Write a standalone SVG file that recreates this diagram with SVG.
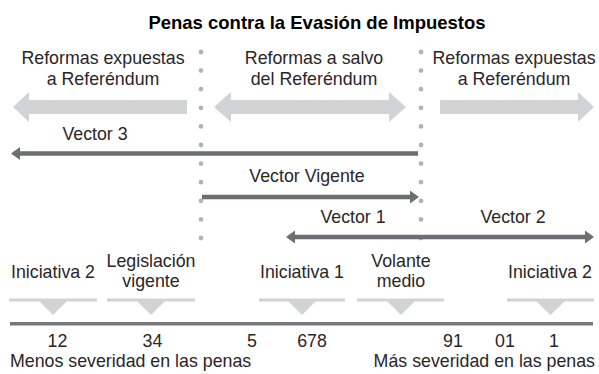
<svg xmlns="http://www.w3.org/2000/svg" width="599" height="374" viewBox="0 0 599 374">
<defs>
<style>
text{font-family:"Liberation Sans",Arial,sans-serif;font-size:17.8px;fill:#2a2627}
.c{text-anchor:middle}
.t{font-weight:bold;font-size:18.5px;fill:#000}
.big{fill:#d1d3d4}
.dk{stroke:#6d6e71;stroke-width:4.5;fill:none}
.hd{fill:#6d6e71}
.dots{stroke:#b1b3b6;stroke-width:4.8;stroke-linecap:round;stroke-dasharray:0 18.6}
.bar{fill:#d1d3d4}
</style>
</defs>
<rect width="599" height="374" fill="#fff"/>
<text class="t c" x="317" y="29">Penas contra la Evasión de Impuestos</text>

<g id="connectors">
<line class="dots" x1="201" y1="52" x2="201" y2="239"/>
<line class="dots" x1="421" y1="52" x2="421" y2="239"/>
<polygon class="big" points="13,107 29,92 29,100 187,100 187,114 29,114 29,122"/>
<polygon class="big" points="214,107 231,92 231,100 389,100 389,92 406,107 389,122 389,114 231,114 231,122"/>
<polygon class="big" points="440,100 578,100 578,92 594,107 578,122 578,114 440,114"/>
<line class="dk" x1="418" y1="153.5" x2="19" y2="153.5"/>
<polygon class="hd" points="11,153.5 20,147 20,160"/>
<line class="dk" x1="202" y1="197" x2="411" y2="197"/>
<polygon class="hd" points="419,197 410,190.5 410,203.5"/>
<line class="dk" x1="294" y1="237" x2="586" y2="237"/>
<polygon class="hd" points="286,237 295,230.5 295,243.5"/>
<polygon class="hd" points="594,237 585,230.5 585,243.5"/>
<rect x="10" y="322" width="583" height="3.5" fill="#77787b"/>
</g>

<g id="zona-izq">
<text class="c" x="103" y="63.5">Reformas expuestas</text>
<text class="c" x="103" y="85">a Referéndum</text>
</g>
<g id="zona-centro">
<text class="c" x="314" y="63.5">Reformas a salvo</text>
<text class="c" x="314" y="85">del Referéndum</text>
</g>
<g id="zona-der">
<text class="c" x="514" y="63.5">Reformas expuestas</text>
<text class="c" x="514" y="85">a Referéndum</text>
</g>

<g id="vector3"><text class="c" x="95" y="140">Vector 3</text></g>
<g id="vector-vigente"><text class="c" x="307" y="182">Vector Vigente</text></g>
<g id="vector1"><text class="c" x="353" y="223">Vector 1</text></g>
<g id="vector2"><text class="c" x="513" y="223">Vector 2</text></g>

<g id="iniciativa2-izq">
<text class="c" x="53" y="278">Iniciativa 2</text>
<rect class="bar" x="9" y="298.5" width="88" height="3"/>
<polygon class="bar" points="39,301 67,301 53,315"/>
</g>
<g id="legislacion-vigente">
<text class="c" x="151" y="266.5">Legislación</text>
<text class="c" x="151" y="286.5">vigente</text>
<rect class="bar" x="107" y="298.5" width="88" height="3"/>
<polygon class="bar" points="137,301 165,301 151,315"/>
</g>
<g id="iniciativa1">
<text class="c" x="302" y="278">Iniciativa 1</text>
<rect class="bar" x="259" y="298.5" width="86" height="3"/>
<polygon class="bar" points="288,301 316,301 302,315"/>
</g>
<g id="volante-medio">
<text class="c" x="401" y="266.5">Volante</text>
<text class="c" x="401" y="286.5">medio</text>
<rect class="bar" x="357" y="298.5" width="87" height="3"/>
<polygon class="bar" points="387,301 415,301 401,315"/>
</g>
<g id="iniciativa2-der">
<text class="c" x="550" y="278">Iniciativa 2</text>
<rect class="bar" x="507" y="298.5" width="87" height="3"/>
<polygon class="bar" points="536,301 565,301 550.5,315"/>
</g>

<g id="escala">
<text class="c" x="57.5" y="347">12</text>
<text class="c" x="152.5" y="347">34</text>
<text class="c" x="252" y="347">5</text>
<text class="c" x="312" y="347">678</text>
<text class="c" x="453" y="347">91</text>
<text class="c" x="505" y="347">01</text>
<text class="c" x="554" y="347">1</text>
<text x="10" y="367">Menos severidad en las penas</text>
<text x="595" y="367" text-anchor="end">Más severidad en las penas</text>
</g>
</svg>
